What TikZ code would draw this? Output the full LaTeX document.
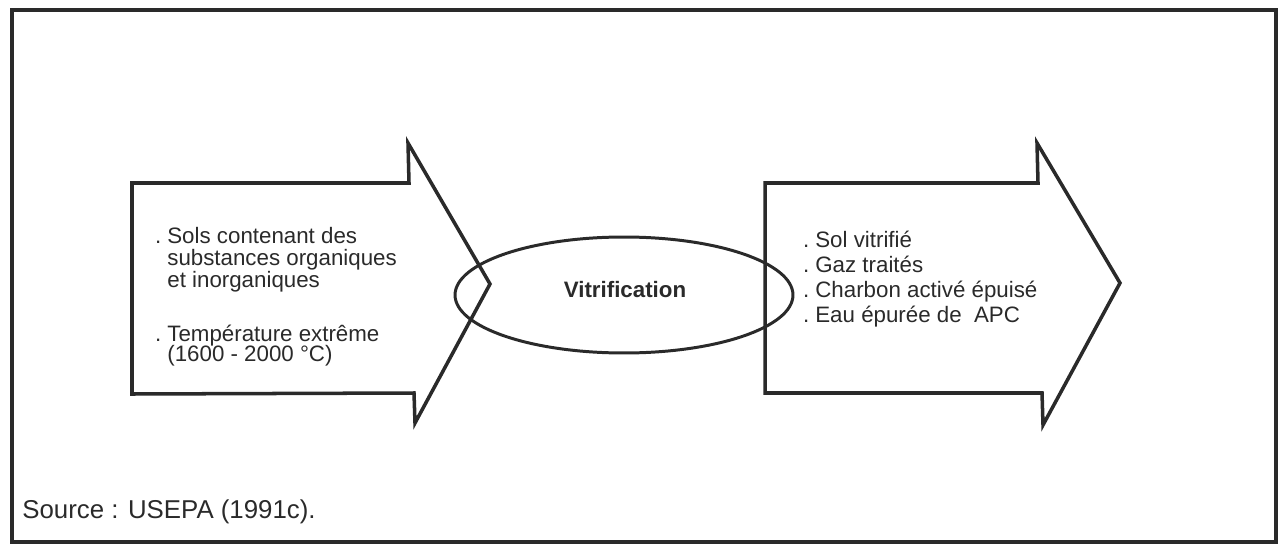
\documentclass[tikz,border=0pt]{standalone}
\usepackage{fontspec}
\setmainfont{Liberation Sans}
\definecolor{ink}{HTML}{2A2A2A}
\usetikzlibrary{calc}
\newcommand{\bul}{\llap{.\kern3.5pt}}
\begin{document}
\begin{tikzpicture}[x=0.02cm,y=-0.02cm,
  ln/.style={line width=2pt, draw=ink, line join=miter},
  frm/.style={line width=2.4pt, draw=ink},
  oval/.style={line width=1.7pt, draw=ink},
  txt/.style={anchor=base west, inner sep=0pt, text=ink, font=\fontsize{12.7}{15}\selectfont},
  ttl/.style={anchor=base, inner sep=0pt, text=ink, font=\fontsize{12.7}{15}\selectfont\bfseries},
  src/.style={anchor=base west, inner sep=0pt, text=ink, font=\fontsize{14.7}{17}\selectfont}]
\useasboundingbox (0,0) rectangle (1280,544);
% frame
\draw[frm] (12,10) rectangle (1276,542);
% left arrow
\coordinate (la1) at (132,183);
\coordinate (la2) at (409,183);
\coordinate (la3) at (408,143);
\coordinate (la4) at (490,284);
\coordinate (la5) at (415,423);
\coordinate (la6) at (414,393);
\coordinate (la7) at (132,394);
\draw[ln] (la1) -- (la2) -- (la3) -- (la4) -- (la5) -- (la6) -- (la7) -- cycle;
% right arrow
\coordinate (ra1) at (765,183);
\coordinate (ra2) at (1038,183);
\coordinate (ra3) at (1037,143);
\coordinate (ra4) at (1120,283);
\coordinate (ra5) at (1043,425);
\coordinate (ra6) at (1042,393);
\coordinate (ra7) at (765,393);
\draw[ln] (ra1) -- (ra2) -- (ra3) -- (ra4) -- (ra5) -- (ra6) -- (ra7) -- cycle;
% ellipse
\coordinate (ec) at (624,295);
\draw[oval] (ec) ellipse [x radius=3.38cm, y radius=1.16cm];
\node[ttl] (vit) at (625,297) {Vitrification};
% left texts
\node[txt] (l1) at (167,243) {\bul Sols contenant des};
\node[txt] (l2) at (167,265) {substances organiques};
\node[txt] (l3) at (167,287) {et inorganiques};
\node[txt] (l4) at (167,341) {\bul Température extrême};
\node[txt] (l5) at (167,361) {(1600 - 2000 °C)};
% right texts
\node[txt] (r1) at (815,247) {\bul Sol vitrifié};
\node[txt] (r2) at (815,272) {\bul Gaz traités};
\node[txt] (r3) at (815,297) {\bul Charbon activé épuisé};
\node[txt] (r4) at (815,322) {\bul Eau épurée de\ \ APC};
% source
\node[src] (source) at (22,518) {Source : USEPA (1991c).};
\end{tikzpicture}
\end{document}
